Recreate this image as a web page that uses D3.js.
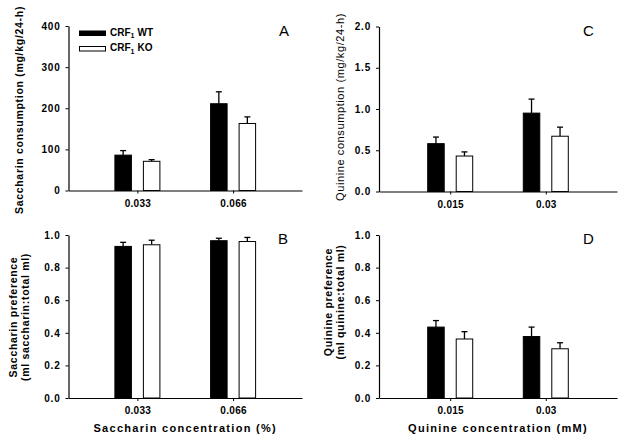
<!DOCTYPE html>
<html>
<head>
<meta charset="utf-8">
<script src="https://cdn.jsdelivr.net/npm/d3@7"></script>
<style>
  html, body { margin: 0; padding: 0; background: #fff; }
  svg { display: block; }
  text { font-family: Arial, "Liberation Sans", sans-serif; fill: #000; }
</style>
</head>
<body>
<svg id="chart" width="624" height="440"></svg>
<script>
// ---- data ----
const groups = ["WT", "KO"];
const legendLabels = ["CRF", "CRF"];
const saccharinConc = ["0.033", "0.066"];
const quinineConc = ["0.015", "0.03"];

const saccConsWT = [86, 211];
const saccConsWTErr = [11, 29];
const saccConsKO = [71, 163];
const saccConsKOErr = [4, 16];

const quinConsWT = [0.58, 0.95];
const quinConsWTErr = [0.08, 0.17];
const quinConsKO = [0.43, 0.67];
const quinConsKOErr = [0.05, 0.11];

const saccPrefWT = [0.93, 0.965];
const saccPrefWTErr = [0.025, 0.015];
const saccPrefKO = [0.94, 0.96];
const saccPrefKOErr = [0.028, 0.025];

const quinPrefWT = [0.435, 0.377];
const quinPrefWTErr = [0.04, 0.058];
const quinPrefKO = [0.362, 0.302];
const quinPrefKOErr = [0.045, 0.037];

const saccConsTicks = [0, 100, 200, 300, 400];
const quinConsTicks = [0, 0.5, 1.0, 1.5, 2.0];
const prefTicks = [0, 0.2, 0.4, 0.6, 0.8, 1.0];

// ---- drawing ----
const svg = d3.select("#chart");

const panels = [
  { letter: "A", cats: saccharinConc, wt: saccConsWT, wtE: saccConsWTErr, ko: saccConsKO, koE: saccConsKOErr,
    domain: [0, 400], ticks: saccConsTicks, fmt: d3.format("d"),
    x0: 68.5, x1: 302, y0: 26, y1: 190.5, pad: 0.72,
    ylabel: ["Saccharin consumption (mg/kg/24-h)"], ylabelX: [23], ylabelY: 110, ylabelBold: true,
    letterX: 279, letterY: 36, legend: true },
  { letter: "C", cats: quinineConc, wt: quinConsWT, wtE: quinConsWTErr, ko: quinConsKO, koE: quinConsKOErr,
    domain: [0, 2], ticks: quinConsTicks, fmt: d3.format(".1f"),
    x0: 379, x1: 617, y0: 26.5, y1: 191.5, pad: 0.745,
    ylabel: ["Quinine consumption (mg/kg/24-h)"], ylabelX: [344], ylabelY: 107, ylabelBold: false,
    letterX: 583, letterY: 36 },
  { letter: "B", cats: saccharinConc, wt: saccPrefWT, wtE: saccPrefWTErr, ko: saccPrefKO, koE: saccPrefKOErr,
    domain: [0, 1], ticks: prefTicks, fmt: d3.format(".1f"),
    x0: 68.5, x1: 302, y0: 235, y1: 398, pad: 0.72,
    ylabel: ["Saccharin preference", "(ml saccharin:total ml)"], ylabelX: [17, 29], ylabelY: 317, ylabelBold: true,
    letterX: 278, letterY: 243.5, xlabel: "Saccharin concentration (%)" },
  { letter: "D", cats: quinineConc, wt: quinPrefWT, wtE: quinPrefWTErr, ko: quinPrefKO, koE: quinPrefKOErr,
    domain: [0, 1], ticks: prefTicks, fmt: d3.format(".1f"),
    x0: 379, x1: 617, y0: 235, y1: 398, pad: 0.745,
    ylabel: ["Quinine preference", "(ml quinine:total ml)"], ylabelX: [332, 344], ylabelY: 302, ylabelBold: true,
    letterX: 583, letterY: 243.5, xlabel: "Quinine concentration (mM)" }
];

panels.forEach(p => {
  const g = svg.append("g");
  const x = d3.scalePoint().domain(p.cats).range([p.x0, p.x1]).padding(p.pad);
  const xs = d3.scaleBand().domain(groups).range([-23, 23]).paddingInner(0.386);
  const y = d3.scaleLinear().domain(p.domain).range([p.y1, p.y0]);

  // bars
  const series = [
    { key: "WT", vals: p.wt, errs: p.wtE, fill: "#000" },
    { key: "KO", vals: p.ko, errs: p.koE, fill: "#fff" }
  ];
  series.forEach(s => {
    const bw = xs.bandwidth();
    p.cats.forEach((c, i) => {
      const cx = x(c) + xs(s.key);
      const mid = cx + bw / 2;
      // error bar (upper only)
      g.append("line")
        .attr("x1", mid).attr("x2", mid)
        .attr("y1", y(s.vals[i])).attr("y2", y(s.vals[i] + s.errs[i]))
        .attr("stroke", "#000").attr("stroke-width", 1.3);
      g.append("line")
        .attr("x1", mid - 3).attr("x2", mid + 3)
        .attr("y1", y(s.vals[i] + s.errs[i])).attr("y2", y(s.vals[i] + s.errs[i]))
        .attr("stroke", "#000").attr("stroke-width", 1.3);
      g.append("rect")
        .attr("x", cx + 0.5).attr("y", y(s.vals[i]))
        .attr("width", bw - 1).attr("height", y(0) - y(s.vals[i]))
        .attr("fill", s.fill).attr("stroke", "#000").attr("stroke-width", 1);
    });
  });

  // y axis
  const yAxis = d3.axisLeft(y).tickValues(p.ticks).tickFormat(p.fmt).tickSize(3).tickPadding(5).tickSizeOuter(0);
  const ya = g.append("g").attr("transform", `translate(${p.x0},0)`).call(yAxis);
  ya.select(".domain").attr("stroke", "#000").attr("stroke-width", 1.2);
  ya.selectAll(".tick line").attr("stroke", "#000");
  ya.selectAll(".tick text").attr("font-family", "Arial, 'Liberation Sans', sans-serif")
    .attr("font-size", 10).attr("font-weight", "bold").attr("letter-spacing", 0.8).attr("fill", "#000");

  // x axis
  const xAxis = d3.axisBottom(x).tickSize(3).tickPadding(6).tickSizeOuter(0);
  const xa = g.append("g").attr("transform", `translate(0,${p.y1})`).call(xAxis);
  xa.select(".domain").attr("stroke", "#000").attr("stroke-width", 1.2);
  xa.selectAll(".tick line").attr("stroke", "#000");
  xa.selectAll(".tick text").attr("font-family", "Arial, 'Liberation Sans', sans-serif")
    .attr("font-size", 10).attr("font-weight", "bold").attr("letter-spacing", 0.3).attr("fill", "#000");

  // y label
  p.ylabel.forEach((t, k) => {
    g.append("text")
      .attr("transform", `translate(${p.ylabelX[k]},${p.ylabelY}) rotate(-90)`)
      .attr("text-anchor", "middle")
      .attr("font-size", p.ylabelBold ? 10.5 : 11)
      .attr("font-weight", p.ylabelBold ? "bold" : "normal")
      .attr("letter-spacing", p.ylabelBold ? 0.7 : 0.6)
      .text(t);
  });

  // x label
  if (p.xlabel) {
    g.append("text")
      .attr("x", (p.x0 + p.x1) / 2).attr("y", 432)
      .attr("text-anchor", "middle")
      .attr("font-size", 11).attr("font-weight", "bold").attr("letter-spacing", 1.3)
      .text(p.xlabel);
  }

  // panel letter
  g.append("text").attr("x", p.letterX).attr("y", p.letterY)
    .attr("font-size", 15).text(p.letter);

  // legend
  if (p.legend) {
    const lg = g.append("g");
    const fills = ["#000", "#fff"];
    groups.forEach((gr, k) => {
      const yy = 31 + k * 15.5;
      lg.append("rect").attr("x", 79.5).attr("y", yy).attr("width", 26).attr("height", 4.5)
        .attr("fill", fills[k]).attr("stroke", "#000").attr("stroke-width", 1);
      const t = lg.append("text").attr("x", 110).attr("y", yy + 4.5)
        .attr("font-size", 10).attr("font-weight", "bold");
      t.append("tspan").text(legendLabels[k]);
      t.append("tspan").attr("font-size", 7).attr("dy", 2.5).text("1");
      t.append("tspan").attr("dy", -2.5).attr("dx", 3).text(gr);
    });
  }
});
</script>
</body>
</html>
